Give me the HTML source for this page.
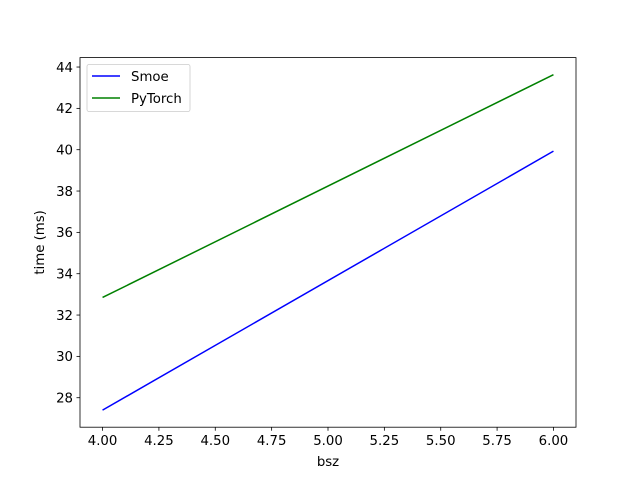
<!DOCTYPE html>
<html><head><meta charset="utf-8"><style>body{margin:0;background:#fff}svg text{font-family:"DejaVu Sans","Liberation Sans",sans-serif}</style></head>
<body>
<svg id="chart" width="640" height="480" xmlns="http://www.w3.org/2000/svg"></svg>
<script>
const xValues = [4, 6];
const smoeValues = [27.4, 39.93];
const pytorchValues = [32.85, 43.63];
const xTicks = [4.0, 4.25, 4.5, 4.75, 5.0, 5.25, 5.5, 5.75, 6.0];
const yTicks = [28, 30, 32, 34, 36, 38, 40, 42, 44];

const L=80,R=576,T=57.6,B=427.2;
const xmin=3.9,xmax=6.1,ymin=26.5735,ymax=44.4565;
const sx=v=>L+(v-xmin)/(xmax-xmin)*(R-L);
const sy=v=>B-(v-ymin)/(ymax-ymin)*(B-T);
const svg=document.getElementById('chart');
const NS='http://www.w3.org/2000/svg';
const FS=13.3;
function mk(tag,attrs,parent){const e=document.createElementNS(NS,tag);for(const k in attrs)e.setAttribute(k,attrs[k]);(parent||svg).appendChild(e);return e;}

function series(vals,color,name){
  const p=mk('polyline',{points:xValues.map((x,i)=>sx(x)+','+sy(vals[i])).join(' '),fill:'none',stroke:color,'stroke-width':1.5});
  
  
}
series(smoeValues,'#0000ff','smoe-line');
series(pytorchValues,'#008000','pytorch-line');

const frame=mk('rect',{x:L,y:T,width:R-L,height:B-T,fill:'none',stroke:'#000','stroke-width':0.8});



xTicks.forEach(v=>{
  const x=sx(v);
  mk('line',{x1:x,y1:B,x2:x,y2:B+3.5,stroke:'#000','stroke-width':0.8});
  const t=mk('text',{x:x,y:B+18,'font-size':FS,'text-anchor':'middle'});
  t.textContent=v.toFixed(2);
  
  
});
yTicks.forEach(v=>{
  const y=sy(v);
  mk('line',{x1:L-3.5,y1:y,x2:L,y2:y,stroke:'#000','stroke-width':0.8});
  const t=mk('text',{x:L-7,y:y+4.8,'font-size':FS,'text-anchor':'end'});
  t.textContent=v;
  
  
});
const xt=mk('text',{x:(L+R)/2,y:466,'font-size':FS,'text-anchor':'middle'});
xt.textContent='bsz';


const yt=mk('text',{x:0,y:0,'font-size':FS,'text-anchor':'middle',transform:'translate(44,'+((T+B)/2)+') rotate(-90)'});
yt.textContent='time (ms)';



const lg=mk('g',{});


mk('rect',{x:87,y:64.5,width:103,height:47,rx:2,fill:'#fff',stroke:'#ccc','stroke-width':0.8},lg);
[['Smoe','#0000ff',76],['PyTorch','#008000',98]].forEach(([n,c,y])=>{
  mk('line',{x1:92,y1:y,x2:120,y2:y,stroke:c,'stroke-width':1.5},lg);
  const t=mk('text',{x:131,y:y+4.8,'font-size':FS},lg);
  t.textContent=n;
  
  
});
</script>
</body></html>
